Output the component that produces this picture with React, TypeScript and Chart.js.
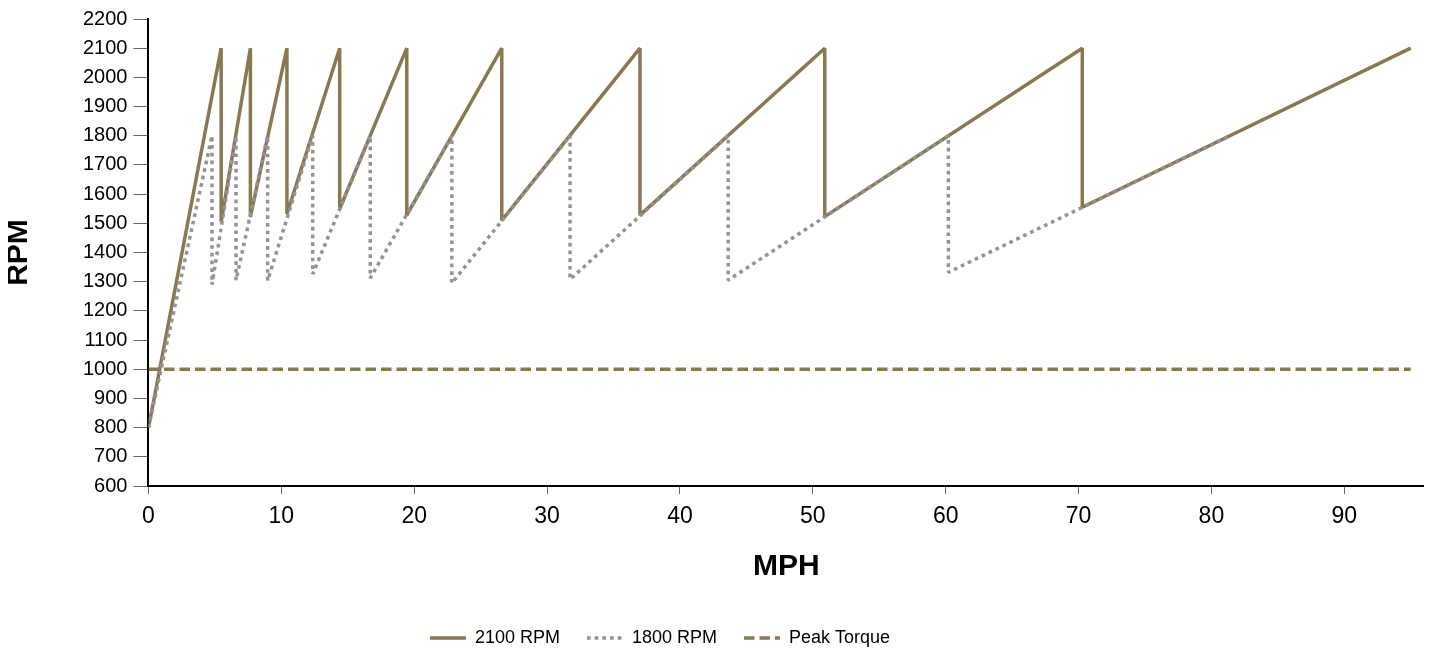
import { useEffect, useRef } from 'react';
import { Chart, registerables } from 'chart.js';

Chart.register(...registerables);

// ---- Data ----
const seriesLabels = ['2100 RPM', '1800 RPM', 'Peak Torque'];

const mph2100 = [0, 5.47, 5.47, 7.67, 7.67, 10.42, 10.42, 14.39, 14.39, 19.44, 19.44, 26.59, 26.59, 36.99, 36.99, 50.9, 50.9, 70.28, 70.28, 95];
const rpm2100 = [800, 2100, 1505, 2100, 1522, 2100, 1532, 2100, 1550, 2100, 1528, 2100, 1510, 2100, 1528, 2100, 1523, 2100, 1555, 2100];

const mph1800 = [0, 4.78, 4.78, 6.59, 6.59, 8.97, 8.97, 12.36, 12.36, 16.69, 16.69, 22.83, 22.83, 31.73, 31.73, 43.63, 43.63, 60.2, 60.2, 81.4];
const rpm1800 = [800, 1800, 1290, 1800, 1305, 1800, 1304, 1800, 1326, 1800, 1312, 1800, 1295, 1800, 1308, 1800, 1305, 1800, 1332, 1800];

const torqueMph = [0, 95];
const torqueRpm = [1000, 1000];

const xTickValues = [0, 10, 20, 30, 40, 50, 60, 70, 80, 90];
const xMin = 0;
const xMax = 96;
const yMin = 600;
const yMax = 2200;
const yStep = 100;

const xTitle = 'MPH';
const yTitle = 'RPM';

const toPoints = (xs: number[], ys: number[]) => xs.map((x, i) => ({ x, y: ys[i] }));

const BROWN = '#8a7850';
const GREY = '#939393';
const FONT = "'Liberation Sans', Arial, sans-serif";

const legendShift = {
  id: 'legendShift',
  afterLayout(chart: any) {
    const l = chart.legend;
    if (l) {
      l.left -= 56;
      l.right -= 56;
    }
  },
};

export default function App() {
  const ref = useRef<HTMLCanvasElement | null>(null);

  useEffect(() => {
    if (!ref.current) return;
    Chart.defaults.font.family = FONT;
    Chart.defaults.color = '#000';
    const baseGenerate = (Chart.defaults as any).plugins.legend.labels.generateLabels;
    const chart = new Chart(ref.current, {
      type: 'line',
      data: {
        datasets: [
          {
            label: seriesLabels[0],
            data: toPoints(mph2100, rpm2100),
            borderColor: BROWN,
            backgroundColor: BROWN,
            borderWidth: 3.5,
            borderJoinStyle: 'bevel',
            pointRadius: 0,
            tension: 0,
            order: 1,
          },
          {
            label: seriesLabels[1],
            data: toPoints(mph1800, rpm1800),
            borderColor: GREY,
            backgroundColor: GREY,
            borderWidth: 3.5,
            borderDash: [3.7, 4],
            borderJoinStyle: 'bevel',
            pointRadius: 0,
            tension: 0,
            order: 0,
          },
          {
            label: seriesLabels[2],
            data: toPoints(torqueMph, torqueRpm),
            borderColor: BROWN,
            backgroundColor: BROWN,
            borderWidth: 3.5,
            borderDash: [10.5, 5],
            pointRadius: 0,
            tension: 0,
            order: 2,
          },
        ],
      },
      options: {
        animation: false,
        responsive: false,
        events: [],
        layout: { padding: 0 },
        scales: {
          x: {
            type: 'linear',
            min: xMin,
            max: xMax,
            afterBuildTicks: (axis: any) => {
              axis.ticks = xTickValues.map((v) => ({ value: v }));
            },
            ticks: {
              font: { size: 23 },
              color: '#000',
              padding: 9,
              maxRotation: 0,
              autoSkip: false,
            },
            grid: {
              drawOnChartArea: false,
              drawTicks: true,
              tickLength: 8,
              tickColor: '#666',
              tickWidth: 1,
            },
            border: { display: true, color: '#000', width: 2 },
            title: {
              display: true,
              text: xTitle,
              font: { size: 30, weight: 'bold', lineHeight: 1.2 },
              color: '#000',
              padding: { top: 9.4, bottom: 17 },
            },
          },
          y: {
            type: 'linear',
            min: yMin,
            max: yMax,
            ticks: {
              stepSize: yStep,
              font: { size: 20, lineHeight: 0.5 },
              color: '#000',
              padding: 6,
              autoSkip: false,
              callback: (v: any) => String(v),
            },
            grid: {
              drawOnChartArea: false,
              drawTicks: true,
              tickLength: 15,
              tickColor: '#666',
              tickWidth: 1,
            },
            border: { display: true, color: '#000', width: 2 },
            title: {
              display: true,
              text: yTitle,
              font: { size: 30, weight: 'bold', lineHeight: 0.7 },
              color: '#000',
              padding: { top: 0, bottom: 48 },
            },
          },
        },
        plugins: {
          tooltip: { enabled: false },
          legend: {
            position: 'bottom',
            labels: {
              usePointStyle: true,
              pointStyle: 'line',
              pointStyleWidth: 36,
              boxHeight: 18,
              padding: 27,
              font: { size: 18 },
              color: '#000',
              sort: (a: any, b: any) => a.datasetIndex - b.datasetIndex,
              generateLabels: (c: any) =>
                baseGenerate(c).map((item: any) => {
                  const ds = c.data.datasets[item.datasetIndex];
                  return {
                    ...item,
                    lineDash: ds.borderDash || [],
                    strokeStyle: ds.borderColor,
                    fillStyle: ds.borderColor,
                    lineWidth: ds.borderWidth,
                    lineCap: 'butt',
                  };
                }),
            },
          },
        },
      } as any,
      plugins: [legendShift],
    });
    return () => chart.destroy();
  }, []);

  return (
    <div style={{ width: 1416, height: 649, marginBottom: -10 }}>
      <canvas ref={ref} width={1416} height={649} style={{ display: 'block' }} />
    </div>
  );
}
